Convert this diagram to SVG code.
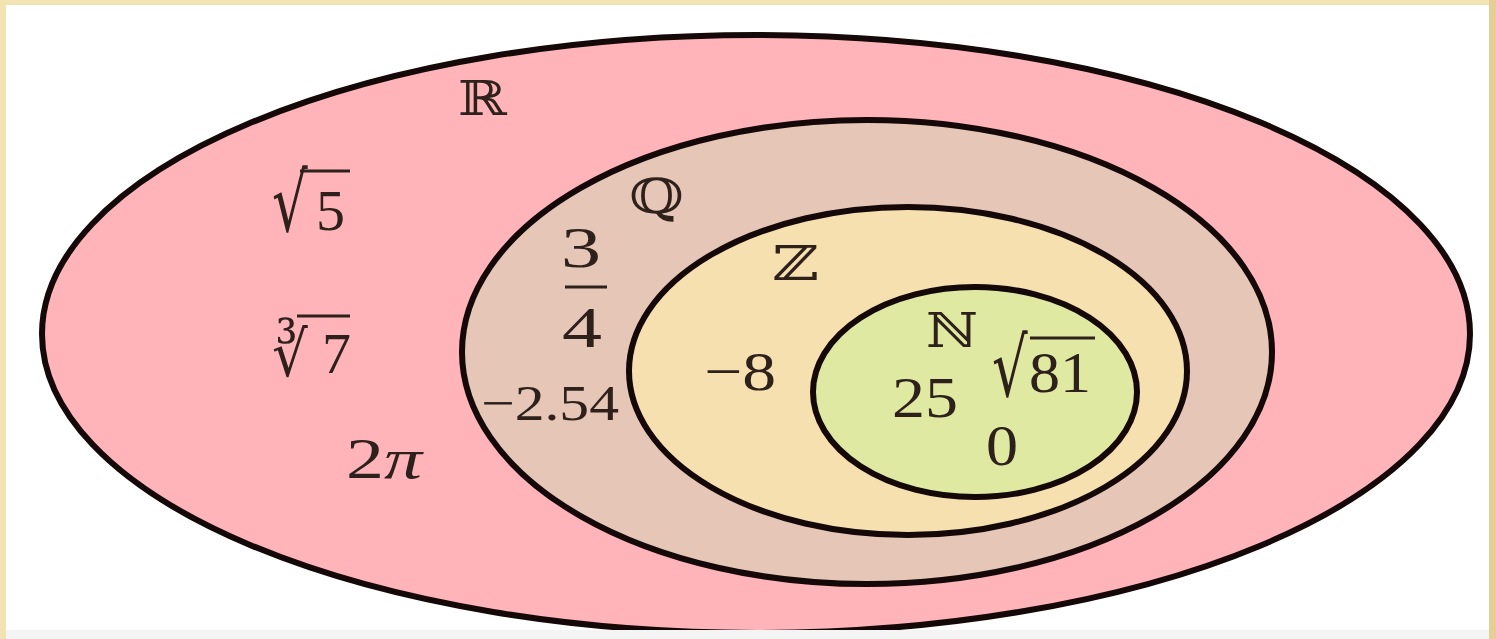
<svg xmlns="http://www.w3.org/2000/svg" width="1496" height="639" viewBox="0 0 1496 639">
<style>
.set{stroke:#140808;stroke-width:6}
.t{font-family:"Liberation Serif","Times New Roman",serif;fill:#2e201b;font-size:58px}
.ds{font-family:"DejaVu Serif",serif;fill:#2e201b;font-size:48px}
.rad{font-family:"DejaVu Serif","DejaVu Sans",serif;fill:#2e201b;font-size:56px}
.bar{stroke:#2e201b;stroke-width:3}
</style>
<rect x="0" y="0" width="1496" height="639" fill="#f3e3b3"/>
<rect x="1489" y="0" width="7" height="639" fill="#e5cf96"/>
<rect x="6" y="5" width="1483" height="625" fill="#ffffff"/>
<g id="R">
<ellipse class="set" cx="756" cy="334" rx="714" ry="299" fill="#ffb4b9"/>
<text class="ds" x="458" y="115" textLength="49" lengthAdjust="spacingAndGlyphs">ℝ</text>
<text class="rad" transform="translate(272,231) scale(1,1.45)">√</text>
<text class="t" x="316" y="230">5</text>
<line class="bar" x1="300" y1="171" x2="350" y2="171"/>
<text class="rad" transform="translate(272,376) scale(1,1.12)">∛</text>
<text class="t" x="322" y="373">7</text>
<line class="bar" x1="297" y1="316" x2="350" y2="316"/>
<text class="t" x="346" y="478" textLength="76" lengthAdjust="spacingAndGlyphs">2<tspan font-style="italic">π</tspan></text>
</g>
<g id="Q">
<ellipse class="set" cx="867" cy="352" rx="405" ry="232" fill="#e6c6b6"/>
<text class="ds" x="629" y="213" textLength="55" lengthAdjust="spacingAndGlyphs">ℚ</text>
<text class="t" x="561" y="267" textLength="40" lengthAdjust="spacingAndGlyphs">3</text>
<line class="bar" x1="565" y1="287" x2="607" y2="287"/>
<text class="t" x="562" y="347" textLength="40" lengthAdjust="spacingAndGlyphs">4</text>
<text class="t" x="481" y="420" style="font-size:50px" textLength="138" lengthAdjust="spacingAndGlyphs">−2.54</text>
</g>
<g id="Z">
<ellipse class="set" cx="908" cy="371" rx="279" ry="164" fill="#f6e0b0"/>
<text class="ds" x="772" y="280" textLength="47" lengthAdjust="spacingAndGlyphs">ℤ</text>
<text class="t" x="704" y="390" style="font-size:55px" textLength="72" lengthAdjust="spacingAndGlyphs">−8</text>
</g>
<g id="N">
<ellipse class="set" cx="975" cy="392" rx="162" ry="105" fill="#e0e9a2"/>
<text class="ds" x="926" y="347" textLength="52" lengthAdjust="spacingAndGlyphs">ℕ</text>
<text class="t" x="892" y="417" textLength="66" lengthAdjust="spacingAndGlyphs">25</text>
<text class="rad" transform="translate(992,396) scale(1,1.45)">√</text>
<text class="t" x="1029" y="392" textLength="62" lengthAdjust="spacingAndGlyphs">81</text>
<line class="bar" x1="1030" y1="338" x2="1095" y2="338"/>
<text class="t" x="986" y="465" textLength="32" lengthAdjust="spacingAndGlyphs">0</text>
</g>
<g id="connectors"/>
<rect x="6" y="630" width="1483" height="9" fill="#f4f4f4"/>
</svg>
